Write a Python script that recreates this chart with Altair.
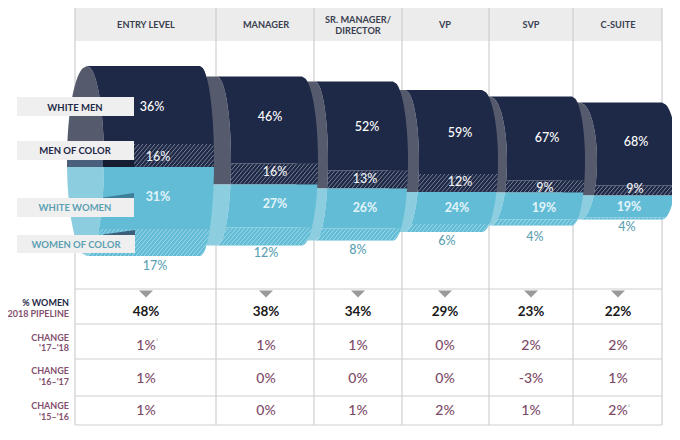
import altair as alt
import numpy as np
import pandas as pd

LEVELS = ["ENTRY LEVEL", "MANAGER", "SR. MANAGER/\nDIRECTOR", "VP", "SVP", "C-SUITE"]
COL_EDGES = [75, 216, 314, 402, 489, 573, 662]
COL_MID = [146, 266, 358, 445, 531, 618]
ROW_EDGES = [289, 324, 359, 396, 425]

WHITE_MEN = [36, 46, 52, 59, 67, 68]
MEN_COLOR = [16, 16, 13, 12, 9, 9]
WHITE_WOMEN = [31, 27, 26, 24, 19, 19]
WOMEN_COLOR = [17, 12, 8, 6, 4, 4]
WOMEN_TOTAL = [48, 38, 34, 29, 23, 22]
CHANGE_17_18 = ["1%", "1%", "1%", "0%", "2%", "2%"]
CHANGE_16_17 = ["1%", "0%", "0%", "0%", "-3%", "1%"]
CHANGE_15_16 = ["1%", "0%", "1%", "2%", "1%", "2%"]

# drawn thickness of each band of the funnel
DRAWN_WM = [78, 87, 89, 84, 84, 83]
DRAWN_MC = [23, 21, 18, 18, 12, 10]
DRAWN_WW = [62, 43, 40, 32, 27, 22]
DRAWN_WC = [27, 18, 12, 8, 6, 2]
FUNNEL_MID = 161

DISC_TIP = [87, 217, 315, 405, 490, 580]
DISC_DEPTH = [17, 14, 13, 14, 17, 17]
DISC_LEFT = [87, 207, 306, 398, 482, 571]
DISC_LEFT_DEPTH = [20, 10, 10, 10, 10, 10]
BODY_END = [200, 302, 393, 482, 572, 662]
BODY_BULGE = [14, 16, 15, 16, 13, 15]

NAVY = "#1e2947"
GREY = "#555a6c"
BLUE = "#62bcd6"
PALE = "#8ccde0"
TEAL = "#5b9fb2"
PLUM = "#85506e"
LINE = "#cfcfcf"
FONT = "Lato"

X = alt.Scale(domain=[8, 672], nice=False, zero=False)
Y = alt.Scale(domain=[432, 8], nice=False, zero=False)


def arc(y, top, bottom):
    mid = (top + bottom) / 2
    half = (bottom - top) / 2
    return np.sqrt(np.clip(1 - ((y - mid) / half) ** 2, 0, 1))


def band(y0, y1, top, bottom, lx, la, rx, ra, color, left_sign=1):
    ys = np.linspace(y0, y1, 40)
    s = arc(ys, top, bottom)
    df = pd.DataFrame({"y": ys, "a": lx + left_sign * la * s, "b": rx + ra * s})
    return alt.Chart(df).mark_area(orient="horizontal", color=color, opacity=1).encode(
        y=alt.Y("y:Q", scale=Y, axis=None),
        x=alt.X("a:Q", scale=X, axis=None),
        x2="b:Q",
    )


def hatch(y0, y1, top, bottom, lx, la, rx, ra, color):
    rows = []
    h = y1 - y0
    lean = h * 0.85
    for c in np.arange(lx - lean, rx + ra + 4, 4.0):
        ts = np.linspace(0, 1, 60)
        ys = y1 - ts * h
        xs = c + ts * lean
        s = arc(ys, top, bottom)
        ok = (xs >= lx + la * s) & (xs <= rx + ra * s)
        if ok.sum() > 1:
            i = np.where(ok)[0]
            rows.append({"x": xs[i[0]], "x2": xs[i[-1]], "y": ys[i[0]], "y2": ys[i[-1]]})
    df = pd.DataFrame(rows)
    return alt.Chart(df).mark_rule(color=color, strokeWidth=0.9).encode(
        x=alt.X("x:Q", scale=X, axis=None),
        x2="x2:Q",
        y=alt.Y("y:Q", scale=Y, axis=None),
        y2="y2:Q",
    )


def rect(x0, x1, y0, y1, color):
    df = pd.DataFrame({"x": [x0], "x2": [x1], "y": [y0], "y2": [y1]})
    return alt.Chart(df).mark_rect(color=color).encode(
        x=alt.X("x:Q", scale=X, axis=None), x2="x2:Q",
        y=alt.Y("y:Q", scale=Y, axis=None), y2="y2:Q",
    )


def poly(xs, tops, bottoms, color):
    df = pd.DataFrame({"x": xs, "y": tops, "y2": bottoms})
    return alt.Chart(df).mark_area(color=color, opacity=1).encode(
        x=alt.X("x:Q", scale=X, axis=None),
        y=alt.Y("y:Q", scale=Y, axis=None),
        y2="y2:Q",
    )


def words(rows, size, color, weight=400, align="center"):
    df = pd.DataFrame(rows, columns=["t", "x", "y"])
    return alt.Chart(df).mark_text(
        font=FONT, fontSize=size, color=color, fontWeight=weight, align=align, baseline="middle"
    ).encode(
        x=alt.X("x:Q", scale=X, axis=None),
        y=alt.Y("y:Q", scale=Y, axis=None),
        text="t:N",
    )


layers = []

# table frame
layers.append(rect(COL_EDGES[0], COL_EDGES[-1], 8, 41, "#ececec"))
vdf = pd.DataFrame({"x": COL_EDGES, "y": [8] * 7, "y2": [ROW_EDGES[-1]] * 7})
layers.append(alt.Chart(vdf).mark_rule(color=LINE, strokeWidth=1.2).encode(
    x=alt.X("x:Q", scale=X, axis=None), y=alt.Y("y:Q", scale=Y, axis=None), y2="y2:Q"))
hdf = pd.DataFrame({"y": ROW_EDGES, "x": [COL_EDGES[0]] * 5, "x2": [COL_EDGES[-1]] * 5})
layers.append(alt.Chart(hdf).mark_rule(color=LINE, strokeWidth=1.2).encode(
    y=alt.Y("y:Q", scale=Y, axis=None), x=alt.X("x:Q", scale=X, axis=None), x2="x2:Q"))

# funnel, last level first so each cylinder overlaps the next one's open end
for i in range(5, -1, -1):
    total = DRAWN_WM[i] + DRAWN_MC[i] + DRAWN_WW[i] + DRAWN_WC[i]
    top = FUNNEL_MID - total / 2
    bottom = top + total
    e1 = top + DRAWN_WM[i]
    e2 = e1 + DRAWN_MC[i]
    e3 = e2 + DRAWN_WW[i]
    tip, dep = DISC_TIP[i], DISC_DEPTH[i]
    end, bul = BODY_END[i], BODY_BULGE[i]

    def disc(y0, y1, color):
        yy = np.linspace(y0, y1, 40)
        s = arc(yy, top, bottom)
        df = pd.DataFrame({"y": yy, "a": DISC_LEFT[i] - DISC_LEFT_DEPTH[i] * s, "b": tip + dep * s})
        return alt.Chart(df).mark_area(orient="horizontal", color=color, opacity=1).encode(
            y=alt.Y("y:Q", scale=Y, axis=None),
            x=alt.X("a:Q", scale=X, axis=None),
            x2="b:Q",
        )

    layers.append(disc(top, e2, GREY))
    layers.append(disc(e2, bottom, PALE))
    layers.append(band(top, e1, top, bottom, tip, dep, end, bul, NAVY))
    layers.append(band(e1, e2, top, bottom, tip, dep, end, bul, NAVY))
    layers.append(hatch(e1, e2, top, bottom, tip, dep, end, bul, "#868b9c"))
    layers.append(band(e2, e3, top, bottom, tip, dep, end, bul, BLUE))
    layers.append(band(e3, bottom, top, bottom, tip, dep, end, bul, BLUE))
    layers.append(hatch(e3, bottom, top, bottom, tip, dep, end, bul, "#a6dcea"))

# shadows under the left tags
layers.append(poly([103, 134], [197.5, 193], [198, 198], "#3d7f98"))
layers.append(poly([103, 135], [234.5, 230], [235, 235], "#3c5f7c"))
layers.append(rect(68, 103, 160, 167, "#4a5f7c"))
layers.append(rect(103, 134, 160, 167, "#161d33"))

# left tags
for y0, y1, x1 in [(97, 116, 134), (141, 160, 134), (198, 217, 134), (235, 253, 135)]:
    layers.append(rect(17, x1, y0, y1, "#efefef"))

layers.append(words([("WHITE MEN", 75, 107.5), ("MEN OF COLOR", 75, 151)], 9.5, NAVY, 700))
layers.append(words([("WHITE WOMEN", 75, 207.5), ("WOMEN OF COLOR", 76, 244.5)], 9.5, TEAL, 700))

# header
head = []
for name, x in zip(LEVELS, COL_MID):
    parts = name.split("\n")
    if len(parts) == 2:
        head += [(parts[0], x, 20), (parts[1], x, 31)]
    else:
        head.append((name, x, 25))
layers.append(words(head, 9.2, "#3a3f50", 700))

# values on the funnel
pc = lambda v: f"{v}%"
WM_XY = [(152, 107), (270, 117), (367, 127), (460, 133), (547, 138), (636, 142)]
MC_XY = [(158, 157), (275, 172), (365, 179), (460, 182), (545, 188), (635, 189)]
WW_XY = [(158, 197), (275, 204), (365, 208), (457, 208), (544, 208), (629, 207)]
WC_XY = [(155, 266), (266, 253), (358, 250), (447, 241), (535, 237), (627, 227)]
layers.append(words([(pc(v), *p) for v, p in zip(WHITE_MEN, WM_XY)], 12.5, "white", 500))
layers.append(words([(pc(v), *p) for v, p in zip(MEN_COLOR, MC_XY)], 12.5, "#eef0f4", 500))
layers.append(words([(pc(v), *p) for v, p in zip(WHITE_WOMEN, WW_XY)], 12.5, "#e3f4f9", 700))
layers.append(words([(pc(v), *p) for v, p in zip(WOMEN_COLOR, WC_XY)], 12.5, TEAL, 500))

# arrows
for x in COL_MID:
    layers.append(poly([x - 7, x, x + 7], [290.5, 290.5, 290.5], [290.5, 297.5, 290.5], "#9a9a9a"))

# table rows
layers.append(words([(pc(v), x, 312) for v, x in zip(WOMEN_TOTAL, COL_MID)], 13.5, "#1a1a1a", 700))
for vals, y in [(CHANGE_17_18, 346), (CHANGE_16_17, 379), (CHANGE_15_16, 411)]:
    layers.append(words([(v, x, y) for v, x in zip(vals, COL_MID)], 14, "#7d4a68", 500))
layers.append(words([("3", 157, 340), ("4", 629, 406)], 4, "#aaaaaa"))

layers.append(words([("% WOMEN", 69, 303)], 9, NAVY, 700, "right"))
layers.append(words([
    ("2018 PIPELINE", 69, 314), ("CHANGE", 69, 338), ("'17\u2013'18", 69, 348),
    ("CHANGE", 69, 371), ("'16\u2013'17", 69, 382), ("CHANGE", 69, 406), ("'15\u2013'16", 69, 417),
], 9, PLUM, 700, "right"))

chart = alt.layer(*layers).properties(
    width=664, height=424, padding=0, background="white",
    autosize=alt.AutoSizeParams(type="none"),
).configure_view(stroke=None)

chart.save("out.html", embed_options={"renderer": "svg", "actions": False})
